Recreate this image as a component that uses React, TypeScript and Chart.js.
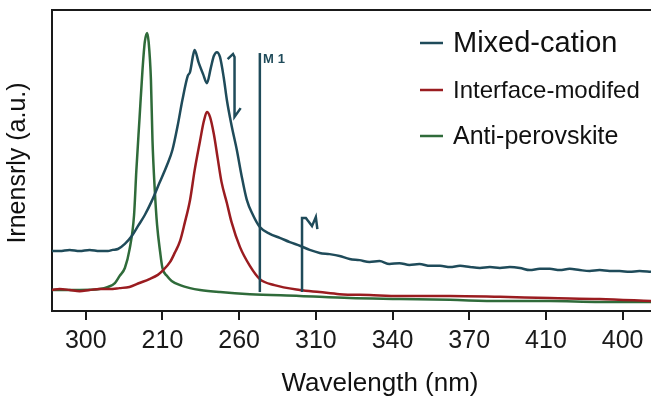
import React, { useEffect, useRef } from "react";
import { Chart, registerables } from "chart.js";

Chart.register(...registerables);

// ---- Data (x in tick-step units along the wavelength axis, y in a.u.) ----
const xTickLabels = ["300", "210", "260", "310", "340", "370", "410", "400"];
const xTickPositions = [0, 1, 2, 3, 4, 5, 6, 7];

const seriesNames = ["Mixed-cation", "Interface-modifed", "Anti-perovskite"];

const mixedX = [
  -0.44, -0.34, -0.21, -0.08, 0.05, 0.18, 0.29, 0.35, 0.42,
  0.51, 0.6, 0.68, 0.77, 0.86, 0.96, 1.06, 1.13, 1.2, 1.26, 1.33, 1.36, 1.4, 1.42,
  1.47, 1.53, 1.58, 1.63, 1.67, 1.71, 1.75, 1.8, 1.84, 1.9, 1.97, 2.03, 2.1, 2.18, 2.27,
  2.4, 2.53, 2.66, 2.8, 2.92, 3.05, 3.18, 3.31,
  3.44, 3.57, 3.7, 3.83, 3.96, 4.09, 4.22, 4.35, 4.49, 4.62, 4.75, 4.88, 5.01, 5.14, 5.27,
  5.4, 5.53, 5.66, 5.79, 5.92, 6.05, 6.18, 6.31, 6.44, 6.57, 6.7, 6.83, 6.96, 7.09, 7.22, 7.37,
];
const mixedY = [
  19.9, 19.9, 20.3, 19.9, 20.3, 19.9, 19.9, 20.3, 20.6,
  22.3, 24.9, 28.2, 31.9, 36.5, 42.5, 48.5, 53.5, 61.8, 70.1, 78.1, 79.4, 85.0, 86.7,
  82.7, 78.7, 75.7, 80.7, 84.7, 86.0, 84.4, 77.4, 70.1, 61.8, 53.5, 45.2, 36.9, 31.9, 27.9,
  25.6, 24.3, 22.9, 21.6, 20.3, 19.3, 18.9, 18.3,
  17.3, 16.9, 16.3, 16.6, 15.6, 15.9, 15.3, 15.6, 15.0, 15.0, 14.6, 15.0, 14.6, 14.3, 14.6,
  14.3, 14.6, 14.3, 13.6, 14.0, 14.0, 13.6, 14.0, 13.6, 13.3, 13.6, 13.3, 13.3, 13.0, 13.3, 13.0,
];

const interfaceX = [
  -0.44, -0.34, -0.21, -0.08, 0.05, 0.18, 0.31, 0.44, 0.57, 0.7, 0.83, 0.94,
  1.0, 1.1, 1.16, 1.23, 1.29, 1.36, 1.42, 1.49, 1.54, 1.58,
  1.62, 1.67, 1.72, 1.77, 1.84, 1.9, 2.01, 2.14, 2.27, 2.46,
  2.79, 3.05, 3.31, 3.7, 4.09, 4.75, 5.4, 6.05, 6.7, 7.37,
];
const interfaceY = [
  7.0, 7.3, 7.0, 6.6, 7.0, 7.3, 7.3, 7.6, 8.0, 9.3, 10.6, 12.0,
  13.3, 16.3, 19.3, 23.3, 29.2, 36.9, 46.8, 56.5, 63.1, 66.1,
  64.5, 58.8, 50.8, 42.9, 35.9, 29.6, 21.3, 15.0, 10.6, 8.6,
  7.0, 6.3, 5.6, 5.3, 5.0, 5.0, 4.7, 4.3, 4.0, 3.3,
];

const antiX = [
  -0.44, -0.08, 0.18, 0.29, 0.38, 0.44, 0.51, 0.57, 0.63, 0.66, 0.7, 0.74, 0.77, 0.8, 0.82,
  0.85, 0.87, 0.9, 0.93, 0.97, 1.0, 1.06, 1.12, 1.23, 1.36, 1.49, 1.75, 2.14, 2.79, 3.44,
  4.09, 4.75, 5.4, 6.05, 6.7, 7.37,
];
const antiY = [
  7.0, 7.0, 7.3, 8.0, 9.3, 11.6, 14.3, 20.3, 31.9, 46.8, 63.5, 80.1, 89.4, 92.4, 89.4,
  76.7, 56.8, 40.2, 28.6, 19.6, 14.3, 11.6, 10.0, 8.6, 7.6, 7.0, 6.3, 5.6, 5.0, 4.3,
  4.0, 3.7, 3.3, 3.3, 3.0, 3.0,
];

// stray marker strokes drawn in the reference
const marker1X = [2.27, 2.27];
const marker1Y = [6.3, 85.7];
const marker2X = [2.82, 2.82, 2.87, 2.89, 2.95, 3.0, 3.02];
const marker2Y = [6.3, 30.9, 30.9, 30.2, 28.2, 31.2, 27.2];
const squiggleX = [1.85, 1.92, 1.94, 1.94, 2.02];
const squiggleY = [83.7, 85.4, 84.4, 64.5, 67.4];
const markerLabel = { text: "M1", x: 2.31, y: 83.7 };

// ---- Styles ----
const BLUE = "#1f4b5a";
const RED = "#9a1c20";
const GREEN = "#2f6b3a";
const AXIS = "#1a1a1a";
const FONT = "'Liberation Sans', Arial, sans-serif";
const X_MIN = -0.44;
const X_MAX = 7.37;

function zip(xs: number[], ys: number[]) {
  const n = Math.min(xs.length, ys.length);
  const out: { x: number; y: number }[] = [];
  for (let i = 0; i < n; i++) out.push({ x: xs[i], y: ys[i] });
  return out;
}

const decorPlugin = {
  id: "decor",
  afterDraw(chart: any) {
    const { ctx, chartArea, scales } = chart;
    ctx.save();
    // top frame line
    ctx.strokeStyle = AXIS;
    ctx.lineWidth = 2;
    ctx.beginPath();
    ctx.moveTo(chartArea.left - 1, chartArea.top);
    ctx.lineTo(chartArea.right, chartArea.top);
    ctx.stroke();

    // marker label
    ctx.save();
    ctx.fillStyle = BLUE;
    ctx.font = `bold 13px ${FONT}`;
    ctx.textAlign = "left";
    ctx.textBaseline = "middle";
    try {
      (ctx as any).letterSpacing = "4px";
    } catch (e) {}
    ctx.fillText(
      markerLabel.text,
      scales.x.getPixelForValue(markerLabel.x),
      scales.y.getPixelForValue(markerLabel.y)
    );
    ctx.restore();

    // legend
    const colors = [BLUE, RED, GREEN];
    const sizes = [29, 24, 25];
    const rows = [43, 90, 136];
    for (let i = 0; i < seriesNames.length; i++) {
      ctx.strokeStyle = colors[i];
      ctx.lineWidth = 2.5;
      ctx.beginPath();
      ctx.moveTo(420, rows[i]);
      ctx.lineTo(443, rows[i]);
      ctx.stroke();
      ctx.fillStyle = "#111";
      ctx.font = `${sizes[i]}px ${FONT}`;
      ctx.textAlign = "left";
      ctx.textBaseline = "middle";
      ctx.fillText(seriesNames[i], 453, rows[i] + 1);
    }

    // axis titles
    ctx.fillStyle = "#111";
    ctx.font = `26px ${FONT}`;
    ctx.textAlign = "center";
    ctx.textBaseline = "middle";
    ctx.fillText("Wavelength (nm)", 380, 384);

    ctx.save();
    ctx.translate(18, 163);
    ctx.rotate(-Math.PI / 2);
    ctx.font = `25px ${FONT}`;
    ctx.fillText("Irnensrly (a.u.)", 0, 0);
    ctx.restore();

    ctx.restore();
  },
};

export default function App() {
  const ref = useRef<HTMLCanvasElement | null>(null);

  useEffect(() => {
    document.body.style.margin = "0";
    const canvas = ref.current;
    if (!canvas) return;
    const lineDs = (label: string, data: any, color: string, smooth: boolean) => ({
      label,
      data,
      borderColor: color,
      backgroundColor: color,
      borderWidth: 2.5,
      pointRadius: 0,
      tension: 0,
      cubicInterpolationMode: smooth ? "monotone" : "default",
      fill: false,
    });
    const chart = new Chart(canvas, {
      type: "line",
      data: {
        datasets: [
          lineDs(seriesNames[0], zip(mixedX, mixedY), BLUE, true),
          lineDs("", zip(marker1X, marker1Y), BLUE, false),
          lineDs("", zip(marker2X, marker2Y), BLUE, false),
          lineDs("", zip(squiggleX, squiggleY), BLUE, false),
          lineDs(seriesNames[1], zip(interfaceX, interfaceY), RED, true),
          lineDs(seriesNames[2], zip(antiX, antiY), GREEN, true),
        ],
      },
      options: {
        animation: false,
        responsive: false,
        layout: { padding: { top: 10, left: 0, right: 0, bottom: 0 } },
        plugins: { legend: { display: false }, tooltip: { enabled: false } },
        scales: {
          x: {
            type: "linear",
            min: X_MIN,
            max: X_MAX,
            afterBuildTicks: (s: any) => {
              s.ticks = xTickPositions.map((v) => ({ value: v }));
            },
            afterFit: (s: any) => {
              s.height = 88;
            },
            ticks: {
              autoSkip: false,
              maxRotation: 0,
              padding: 6,
              color: "#1a1a1a",
              font: { family: FONT, size: 25 },
              callback: (v: any) => {
                const i = xTickPositions.indexOf(Number(v));
                return i >= 0 ? xTickLabels[i] : "";
              },
            },
            grid: {
              display: true,
              drawOnChartArea: false,
              drawTicks: true,
              tickLength: 9,
              color: AXIS,
              lineWidth: 2,
            },
            border: { display: true, color: AXIS, width: 2 },
          },
          y: {
            min: 0,
            max: 100,
            ticks: { display: false },
            grid: { display: false },
            border: { display: true, color: AXIS, width: 2 },
            afterFit: (s: any) => {
              s.width = 52;
            },
          },
        },
      } as any,
      plugins: [decorPlugin as any],
    });
    return () => chart.destroy();
  }, []);

  return (
    <div style={{ width: 651, height: 399, background: "#fff" }}>
      <canvas ref={ref} width={651} height={399} style={{ display: "block" }} />
    </div>
  );
}
